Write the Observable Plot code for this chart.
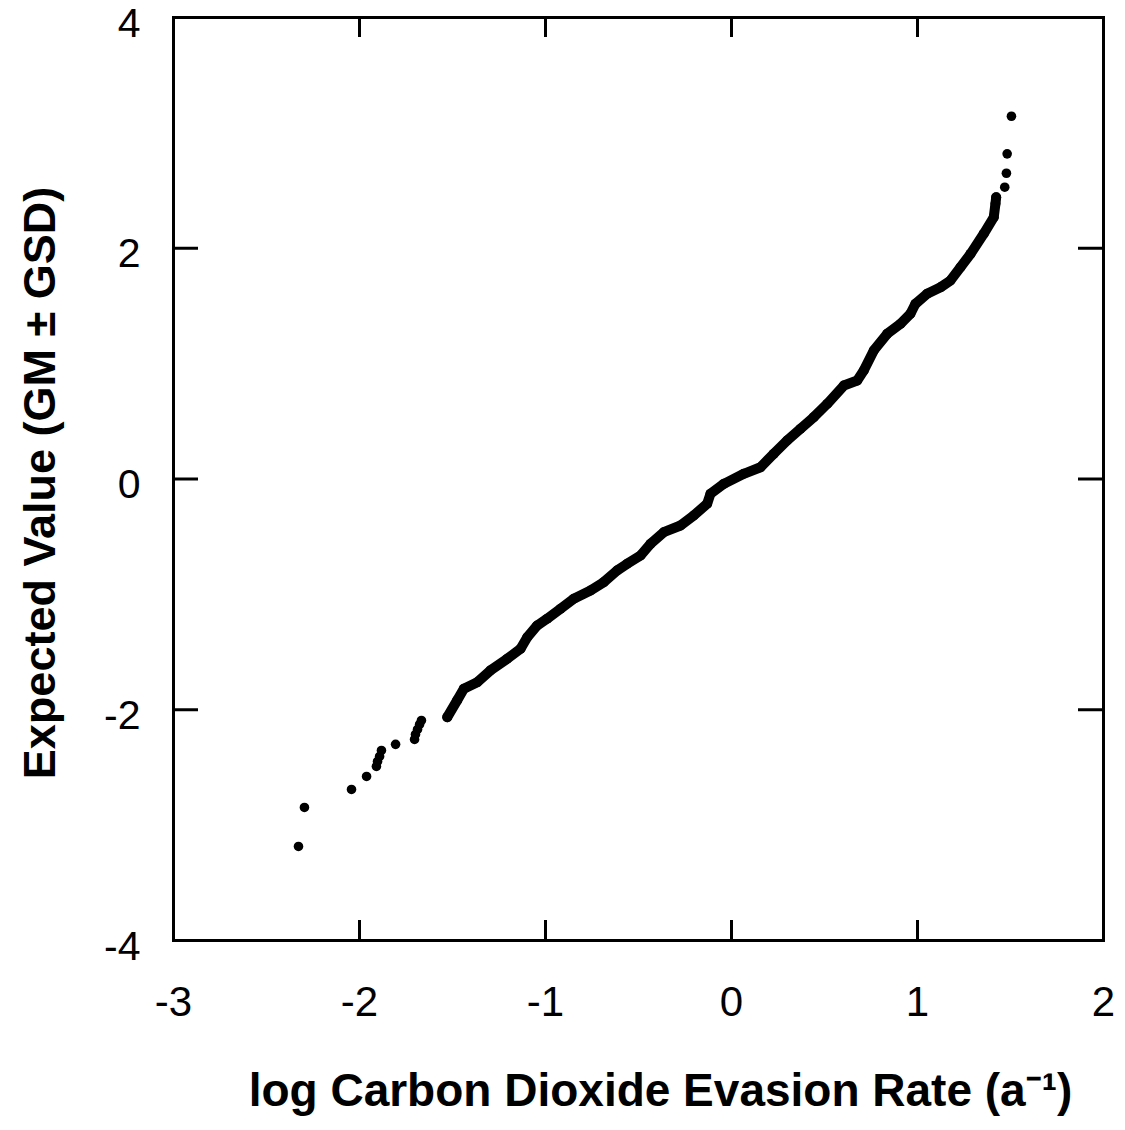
<!DOCTYPE html>
<html>
<head>
<meta charset="utf-8">
<script src="https://cdn.jsdelivr.net/npm/d3@7"></script>
<script src="https://cdn.jsdelivr.net/npm/@observablehq/plot@0.6"></script>
<style>
  html, body { margin: 0; padding: 0; background: #fff; }
  #chart svg { display: block; }
</style>
</head>
<body>
<div id="chart"></div>
<script>
// ---- Data (log evasion rate vs. expected normal value) ----
const lowTailX = [-2.328, -2.296, -2.043, -1.962, -1.909, -1.903, -1.892, -1.882, -1.806, -1.704, -1.699, -1.688, -1.677, -1.667];
const lowTailY = [-3.185, -2.847, -2.691, -2.578, -2.491, -2.448, -2.405, -2.353, -2.300, -2.257, -2.214, -2.171, -2.127, -2.093];

const curveX = [-1.528, -1.475, -1.439, -1.367, -1.296, -1.206, -1.134, -1.098, -1.045, -0.991,
  -0.919, -0.848, -0.758, -0.687, -0.615, -0.561, -0.489, -0.435, -0.364, -0.274,
  -0.203, -0.131, -0.113, -0.041, 0.066, 0.156, 0.227, 0.299, 0.371, 0.442,
  0.515, 0.604, 0.676, 0.711, 0.765, 0.837, 0.909, 0.962, 0.989, 1.052,
  1.124, 1.177, 1.231, 1.285, 1.356, 1.410, 1.419, 1.423];
const curveY = [-2.064, -1.919, -1.818, -1.761, -1.659, -1.558, -1.471, -1.371, -1.270, -1.211,
  -1.125, -1.038, -0.966, -0.894, -0.793, -0.735, -0.663, -0.562, -0.461, -0.403,
  -0.316, -0.215, -0.128, -0.042, 0.045, 0.102, 0.218, 0.334, 0.435, 0.536,
  0.652, 0.810, 0.854, 0.940, 1.114, 1.258, 1.345, 1.432, 1.518, 1.605,
  1.662, 1.720, 1.835, 1.951, 2.125, 2.269, 2.385, 2.442];

const highTailX = [1.469, 1.478, 1.482, 1.505];
const highTailY = [2.529, 2.650, 2.818, 3.144];

const xTickLabels = [-3, -2, -1, 0, 1, 2];
const yTickLabels = [-4, -2, 0, 2, 4];
const xInnerTicks = [-2, -1, 0, 1];
const yInnerTicks = [-2, 0, 2];

const xTitle = "log Carbon Dioxide Evasion Rate (a\u207B\u00B9)";
const yTitle = "Expected Value (GM \u00B1 GSD)";

// ---- Build tables ----
const tails = lowTailX.map((x, i) => ({x, y: lowTailY[i]}))
  .concat(highTailX.map((x, i) => ({x, y: highTailY[i]})));
const curve = curveX.map((x, i) => ({x, y: curveY[i]}));

const W = 1125, H = 1130;
const mL = 173, mR = 22, mT = 17, mB = 190;
const innerW = W - mL - mR, innerH = H - mT - mB;

const chart = Plot.plot({
  width: W,
  height: H,
  marginLeft: mL,
  marginRight: mR,
  marginTop: mT,
  marginBottom: mB,
  style: {fontFamily: "'Liberation Sans', Arial, sans-serif", background: "#fff", color: "#000", overflow: "visible"},
  x: {domain: [-3, 2]},
  y: {domain: [-4, 4]},
  marks: [
    Plot.frame({stroke: "#000", strokeWidth: 3}),
    // inner ticks on all four sides
    Plot.ruleX(xInnerTicks, {x: d => d, insetTop: innerH - 20, stroke: "#000", strokeWidth: 3}),
    Plot.ruleX(xInnerTicks, {x: d => d, insetBottom: innerH - 20, stroke: "#000", strokeWidth: 3}),
    Plot.ruleY(yInnerTicks, {y: d => d, insetRight: innerW - 25, stroke: "#000", strokeWidth: 3}),
    Plot.ruleY(yInnerTicks, {y: d => d, insetLeft: innerW - 25, stroke: "#000", strokeWidth: 3}),
    Plot.axisX(xTickLabels, {tickSize: 0, tickPadding: 46, fontSize: 42, tickFormat: d => String(d), label: null}),
    Plot.axisY(yTickLabels, {tickSize: 0, tickPadding: 33, fontSize: 41, dy: 6, tickFormat: d => String(d), label: null}),
    // data
    Plot.line(curve, {x: "x", y: "y", stroke: "#000", strokeWidth: 10, strokeLinejoin: "round", strokeLinecap: "round"}),
    Plot.dot(curve, {x: "x", y: "y", r: 5, fill: "#000", stroke: null}),
    Plot.dot(tails, {x: "x", y: "y", r: 4.8, fill: "#000", stroke: null}),
    // axis titles
    Plot.text([xTitle], {text: d => d, frameAnchor: "bottom", textAnchor: "middle", dx: 22, dy: 165, fontSize: 46, fontWeight: "bold", fill: "#000"}),
    Plot.text([yTitle], {text: d => d, frameAnchor: "left", textAnchor: "middle", rotate: -90, dx: -133, dy: 4, fontSize: 45, fontWeight: "bold", fill: "#000"})
  ]
});

document.getElementById("chart").appendChild(chart);
</script>
</body>
</html>
